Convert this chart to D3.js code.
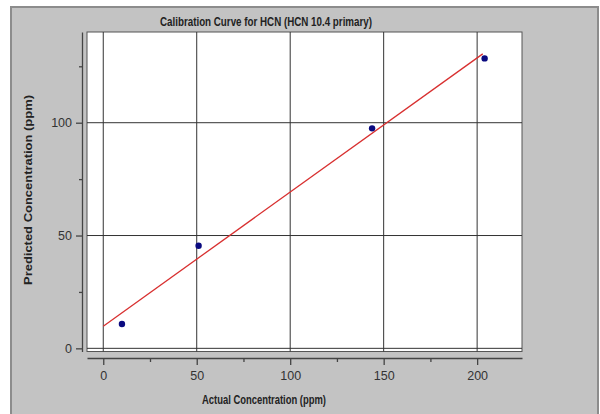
<!DOCTYPE html>
<html>
<head>
<meta charset="utf-8">
<script src="https://cdn.jsdelivr.net/npm/d3@7"></script>
<style>
  html, body { margin: 0; padding: 0; background: #fff; }
  svg { display: block; }
</style>
</head>
<body>
<div id="chart"></div>
<script>
// data
const actual = [10, 51, 143.8, 204];
const predicted = [10.8, 45.5, 97.5, 128.5];
const fitX = [0, 203];
const fitY = [9.8, 130.5];
const xMajor = [0, 50, 100, 150, 200];
const xMinor = [25, 75, 125, 175];
const yMajor = [0, 50, 100];
const yMinor = [25, 75, 125];
const title = "Calibration Curve for HCN (HCN 10.4 primary)";
const xTitle = "Actual Concentration (ppm)";
const yTitle = "Predicted Concentration (ppm)";

const width = 600, height = 414;
const plot = { left: 87, right: 522, top: 32, bottom: 351.5 };

const svg = d3.select("#chart").append("svg")
  .attr("width", width).attr("height", height);

// grey panel
svg.append("rect")
  .attr("x", 11).attr("y", 7).attr("width", 587).attr("height", 420)
  .attr("fill", "#c3c3c3").attr("stroke", "#8c8c8c").attr("stroke-width", 2);

const x = d3.scaleLinear().domain([-8.7, 224]).range([plot.left, plot.right]);
const y = d3.scaleLinear().domain([-1.4, 140.2]).range([plot.bottom, plot.top]);

// white plot area
svg.append("rect")
  .attr("x", plot.left).attr("y", plot.top)
  .attr("width", plot.right - plot.left).attr("height", plot.bottom - plot.top)
  .attr("fill", "#fff").attr("stroke", "#555").attr("stroke-width", 1);

// grid
const grid = svg.append("g").attr("stroke", "#333").attr("stroke-width", 1);
xMajor.forEach(v => {
  grid.append("line")
    .attr("x1", x(v)).attr("x2", x(v))
    .attr("y1", plot.top).attr("y2", plot.bottom);
});
yMajor.forEach(v => {
  grid.append("line")
    .attr("x1", plot.left).attr("x2", plot.right)
    .attr("y1", y(v)).attr("y2", y(v));
});

// axes
const font = "'Liberation Sans', Arial, sans-serif";
function styleAxis(g) {
  g.selectAll("path, line").attr("stroke", "#444").attr("stroke-width", 1.3);
  g.selectAll("text").attr("fill", "#333").style("font-family", font).style("font-size", "12.5px");
}

const yAxis = svg.append("g").attr("transform", "translate(82,0)")
  .call(d3.axisLeft(y).tickValues(yMajor).tickSize(6).tickSizeOuter(0).tickPadding(4));
styleAxis(yAxis);
const yAxisMinor = svg.append("g").attr("transform", "translate(82,0)")
  .call(d3.axisLeft(y).tickValues(yMinor).tickSize(3).tickFormat(""));
yAxisMinor.select(".domain").remove();
styleAxis(yAxisMinor);

const xAxis = svg.append("g").attr("transform", "translate(0,358)")
  .call(d3.axisBottom(x).tickValues(xMajor).tickSize(7).tickSizeOuter(0).tickPadding(6));
styleAxis(xAxis);
const xAxisMinor = svg.append("g").attr("transform", "translate(0,358)")
  .call(d3.axisBottom(x).tickValues(xMinor).tickSize(4).tickFormat(""));
xAxisMinor.select(".domain").remove();
styleAxis(xAxisMinor);

// fit line
const line = d3.line().x(d => x(d[0])).y(d => y(d[1]));
svg.append("path")
  .datum(fitX.map((v, i) => [v, fitY[i]]))
  .attr("d", line)
  .attr("fill", "none").attr("stroke", "#d83030").attr("stroke-width", 1.3);

// points
svg.append("g").selectAll("circle")
  .data(actual.map((v, i) => [v, predicted[i]]))
  .join("circle")
  .attr("cx", d => x(d[0])).attr("cy", d => y(d[1])).attr("r", 3.2)
  .attr("fill", "#0a0a80");

// titles
svg.append("text")
  .attr("x", 266).attr("y", 26).attr("text-anchor", "middle")
  .attr("textLength", 212).attr("lengthAdjust", "spacingAndGlyphs")
  .style("font-family", font).style("font-size", "12px").style("font-weight", "bold")
  .attr("fill", "#222").text(title);

svg.append("text")
  .attr("x", 264).attr("y", 404).attr("text-anchor", "middle")
  .attr("textLength", 124).attr("lengthAdjust", "spacingAndGlyphs")
  .style("font-family", font).style("font-size", "12px").style("font-weight", "bold")
  .attr("fill", "#222").text(xTitle);

svg.append("text")
  .attr("transform", "translate(32,190) rotate(-90)").attr("text-anchor", "middle")
  .attr("textLength", 190).attr("lengthAdjust", "spacingAndGlyphs")
  .style("font-family", font).style("font-size", "11px").style("font-weight", "bold")
  .attr("fill", "#222").text(yTitle);
</script>
</body>
</html>
